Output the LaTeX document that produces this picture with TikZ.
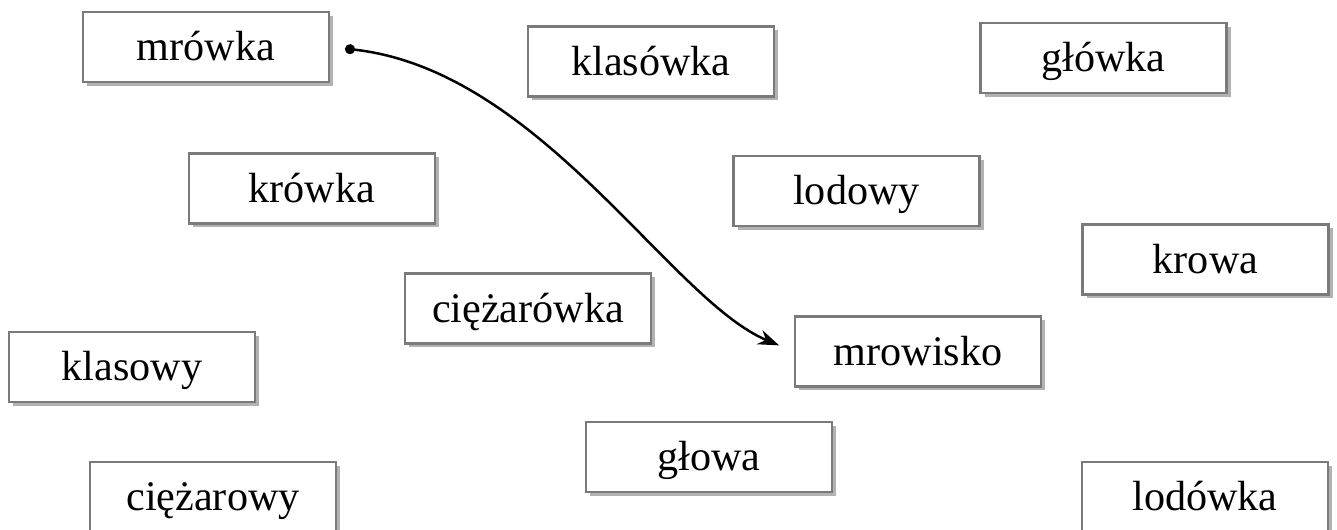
\documentclass[tikz,border=0pt]{standalone}
\usepackage{fontspec}
\setmainfont{Liberation Serif}
\usetikzlibrary{arrows.meta,shadows}

\begin{document}
\begin{tikzpicture}[
  word/.style={draw=black!52, line width=0.045cm, fill=white,
    minimum width=4.92cm, minimum height=1.4cm,
    text height=0.62cm, text depth=0.06cm,
    font=\fontsize{24}{28}\selectfont,
    drop shadow={shadow xshift=0.08cm, shadow yshift=-0.08cm, fill=black!30, opacity=1}},
  link/.style={line width=0.05cm, {Circle[length=0.2cm]}-{Stealth[length=0.42cm,width=0.3cm]}}
]
\useasboundingbox (0,0) rectangle (26.74,10.6);

\node[word] (mrowka) at (4.12,9.66) {mrówka};
\node[word] (klasowka) at (13.02,9.37) {klasówka};
\node[word] (glowka) at (22.07,9.44) {główka};
\node[word] (krowka) at (6.24,6.83) {krówka};
\node[word] (lodowy) at (17.13,6.78) {lodowy};
\node[word] (krowa) at (24.11,5.41) {krowa};
\node[word] (ciezarowka) at (10.56,4.43) {ciężarówka};
\node[word] (klasowy) at (2.64,3.26) {klasowy};
\node[word] (mrowisko) at (18.36,3.57) {mrowisko};
\node[word] (glowa) at (14.18,1.46) {głowa};
\node[word] (ciezarowy) at (4.26,0.66) {ciężarowy};
\node[word] (lodowka) at (24.1,0.66) {lodówka};

\draw[link, shorten <=0.3cm, shorten >=0.32cm] (mrowka.east) .. controls (10.8,9.2) and (13.4,4.6) .. (mrowisko.west);
\end{tikzpicture}
\end{document}
